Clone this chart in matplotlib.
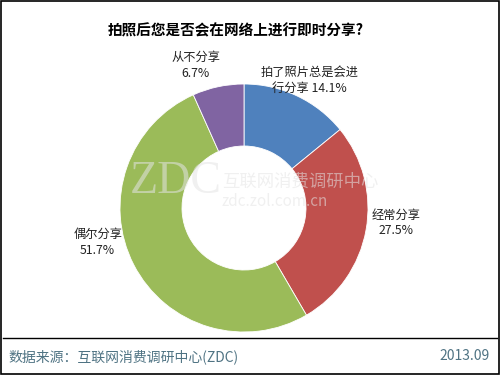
import matplotlib
matplotlib.use("Agg")
import matplotlib.pyplot as plt
from matplotlib.patches import Rectangle
from matplotlib.lines import Line2D

plt.rcParams['font.family'] = ['Noto Sans CJK SC', 'DejaVu Sans']

# data
labels = ['拍了照片总是会进\n行分享', '经常分享', '偶尔分享', '从不分享']
values = [14.1, 27.5, 51.7, 6.7]
colors = ['#4F81BD', '#C0504D', '#9BBB59', '#8064A2']
title = '拍照后您是否会在网络上进行即时分享?'
source = '数据来源：互联网消费调研中心(ZDC)'
date = '2013.09'

# label positions (data units, pie radius = 1)
label_pos = [(0.53, 1.03), (1.23, -0.12), (-1.18, -0.28), (-0.39, 1.15)]

fig = plt.figure(figsize=(5, 3.75), dpi=100)
W, H = 500, 375
cx, cy, r = 244, 208, 124
ax = fig.add_axes([(cx - r) / W, (H - cy - r) / H, 2 * r / W, 2 * r / H])

ax.pie(values, colors=colors, startangle=90, counterclock=False,
       radius=1, wedgeprops=dict(width=0.5, edgecolor='white', linewidth=0.6))
ax.set_xlim(-1, 1)
ax.set_ylim(-1, 1)
ax.set_aspect('equal')
ax.axis('off')

for lab, v, (x, y) in zip(labels, values, label_pos):
    if '\n' in lab:
        txt = lab + ' %.1f%%' % v
    else:
        txt = lab + '\n%.1f%%' % v
    ax.text(x, y, txt, ha='center', va='center', fontsize=8.8,
            color='#222222', linespacing=1.3, clip_on=False)

# watermark
wm = '#e4e4e4'
fig.text(130 / W, 1 - 182 / H, 'ZDC', fontsize=33, family='Liberation Serif',
         color=wm, alpha=0.55, ha='left', va='center')
fig.text(222 / W, 1 - 182 / H, '互联网消费调研中心', fontsize=12.5, color=wm,
         alpha=0.55, ha='left', va='center')
fig.text(222 / W, 1 - 201 / H, 'zdc.zol.com.cn', fontsize=11, color=wm,
         alpha=0.55, ha='left', va='center')

fig.text(236 / W, 1 - 30 / H, title, ha='center', va='center',
         fontsize=10.5, fontweight='bold', color='black')

fig.add_artist(Line2D([3 / W, 497 / W], [1 - 338 / H, 1 - 338 / H],
                      color='black', linewidth=1))
fig.text(8 / W, 1 - 357 / H, source, ha='left', va='center',
         fontsize=10, color='#4f7383')
fig.text(490 / W, 1 - 356 / H, date, ha='right', va='center',
         fontsize=10, color='#4f7383')

fig.add_artist(Rectangle((0.002, 0.003), 0.996, 0.994, transform=fig.transFigure,
                         fill=False, edgecolor='black', linewidth=1.2))

fig.savefig('out.png', dpi=100)
